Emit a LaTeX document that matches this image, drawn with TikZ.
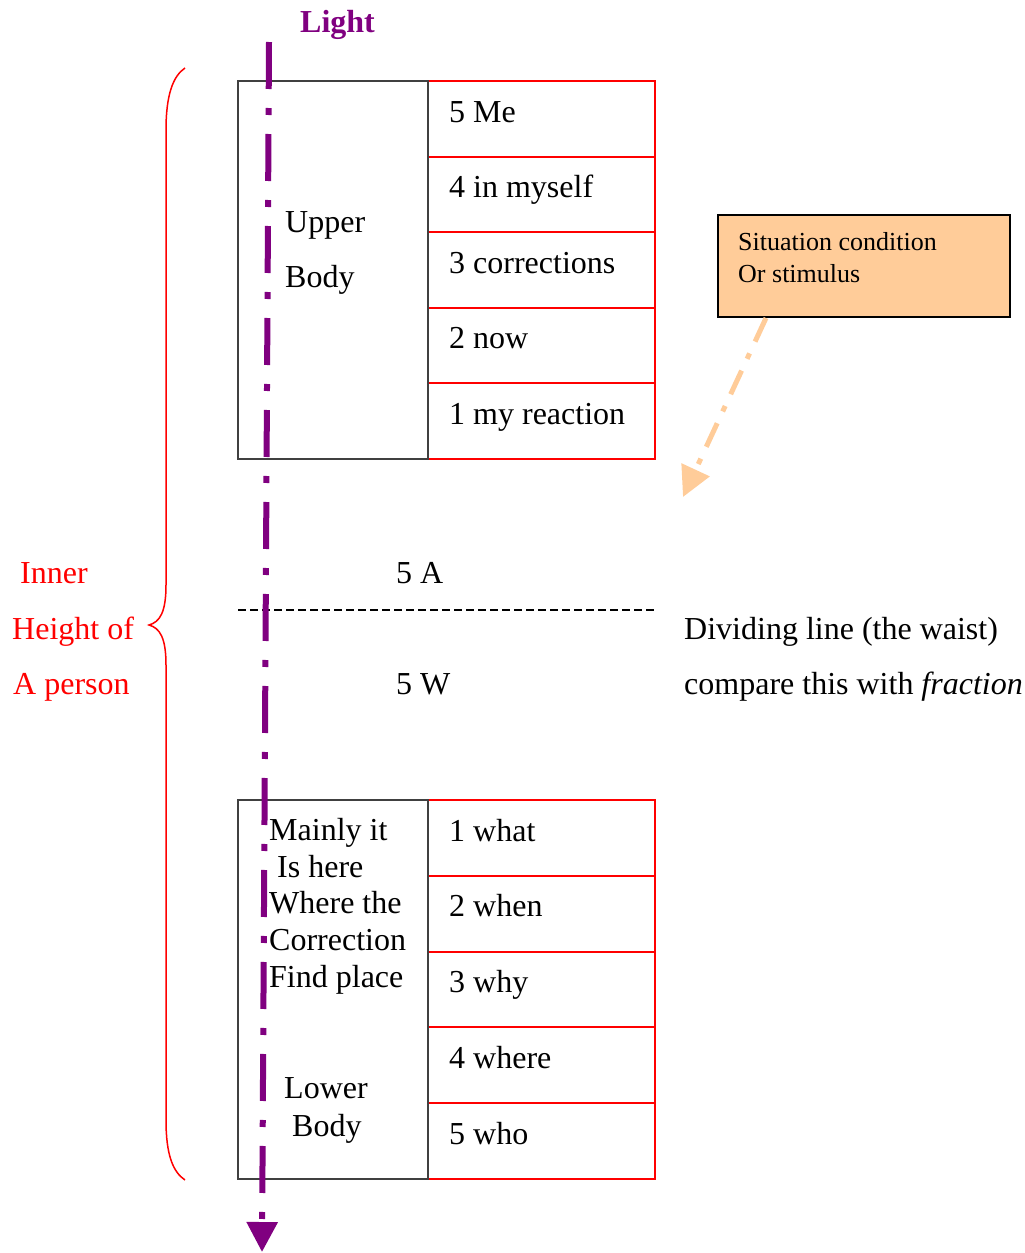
\documentclass[tikz,border=0pt]{standalone}
\usepackage{fontspec}
\setmainfont{Liberation Serif}
\usetikzlibrary{arrows.meta,calc}
\definecolor{lightpurple}{RGB}{128,0,128}
\definecolor{peach}{RGB}{255,204,153}
\definecolor{boxgray}{RGB}{64,64,64}
\begin{document}
\begin{tikzpicture}[x=1pt,y=-1pt,
  txt/.style={anchor=base west,inner sep=0pt,font=\fontsize{32}{37}\selectfont},
  redtxt/.style={txt,text=red},
  smalltxt/.style={anchor=base west,inner sep=0pt,font=\fontsize{26}{32}\selectfont},
  cellbox/.style={draw=red,line width=2pt,minimum width=227pt,minimum height=75.6pt,inner sep=0pt},
  bodybox/.style={draw=boxgray,line width=2pt,minimum width=190pt,minimum height=378pt,inner sep=0pt},
  stimbox/.style={draw=black,fill=peach,line width=2pt,minimum width=292pt,minimum height=102pt,inner sep=0pt},
  lightline/.style={lightpurple,line width=6pt,dash pattern=on 47pt off 19pt on 7pt off 19pt,
    -{Triangle[width=30pt,length=30pt]}},
  stimline/.style={peach,line width=5pt,dash pattern=on 26pt off 13pt on 6pt off 13pt,
    -{Triangle[width=30pt,length=30pt]}},
  waist/.style={black,line width=1.5pt,dash pattern=on 8pt off 4pt},
  bracestyle/.style={red,line width=1.5pt}
]
\useasboundingbox (0,0) rectangle (1025,1253);

% upper cells
\node[cellbox] (u5) at (541.5,118.8) {};
\node[cellbox] (u4) at (541.5,194.4) {};
\node[cellbox] (u3) at (541.5,270.0) {};
\node[cellbox] (u2) at (541.5,345.6) {};
\node[cellbox] (u1) at (541.5,421.2) {};
\node[bodybox] (upper) at (333,270) {};

% lower cells
\node[cellbox,minimum height=75.8pt] (l1) at (541.5,837.9) {};
\node[cellbox,minimum height=75.8pt] (l2) at (541.5,913.7) {};
\node[cellbox,minimum height=75.8pt] (l3) at (541.5,989.5) {};
\node[cellbox,minimum height=75.8pt] (l4) at (541.5,1065.3) {};
\node[cellbox,minimum height=75.8pt] (l5) at (541.5,1141.1) {};
\node[bodybox,minimum height=379pt] (lower) at (333,989.5) {};

% cell texts
\node[txt] (tu5) at (449,122) {5 Me};
\node[txt] (tu4) at (449,197) {4 in myself};
\node[txt] (tu3) at (449,273) {3 corrections};
\node[txt] (tu2) at (449,348) {2 now};
\node[txt] (tu1) at (449,424) {1 my reaction};
\node[txt] (tl1) at (449,841) {1 what};
\node[txt] (tl2) at (449,916) {2 when};
\node[txt] (tl3) at (449,992) {3 why};
\node[txt] (tl4) at (449,1068) {4 where};
\node[txt] (tl5) at (449,1144) {5 who};

% body texts
\node[txt] (ub1) at (285,232) {Upper};
\node[txt] (ub2) at (285,287) {Body};
\node[txt] (m1) at (269,840) {Mainly it};
\node[txt] (m2) at (277,877) {Is here};
\node[txt] (m3) at (269,913) {Where the};
\node[txt] (m4) at (269,950) {Correction};
\node[txt] (m5) at (269,987) {Find place};
\node[txt] (lb1) at (284,1098) {Lower};
\node[txt] (lb2) at (292,1136) {Body};

% waist
\node[txt] (fa) at (396,583) {5 A};
\node[txt] (fw) at (396,694) {5 W};
\coordinate (waistL) at (238,610);
\coordinate (waistR) at (655,610);
\draw[waist] (waistL) -- (waistR);
\node[txt] (div1) at (684,639) {Dividing line (the waist)};
\node[txt] (div2) at (684,694) {compare this with \textit{fraction}};

% inner height
\node[redtxt] (ih1) at (20,583) {Inner};
\node[redtxt] (ih2) at (12,639) {Height of};
\node[redtxt] (ih3) at (13,694) {A person};
\draw[bracestyle] (185,68) .. controls (173,76) and (166,95) .. (166,130)
  -- (166,585) .. controls (166,612) and (160,622) .. (149,625)
  .. controls (160,628) and (166,638) .. (166,665)
  -- (166,1120) .. controls (166,1155) and (173,1172) .. (185,1180);

% stimulus
\node[stimbox] (stim) at (864,266) {};
\node[smalltxt] (st1) at (738,250) {Situation condition};
\node[smalltxt] (st2) at (738,282) {Or stimulus};
\coordinate (stimtip) at (683,497);
\draw[stimline] ($(stim.south west)+(49,0)$) -- (stimtip);

% light
\node[anchor=base west,inner sep=0pt,text=lightpurple,font=\fontsize{32}{37}\selectfont\bfseries] (light) at (300,32) {Light};
\coordinate (lighttop) at (269,42);
\coordinate (lightend) at (262,1252);
\draw[lightline] (lighttop) -- (lightend);
\end{tikzpicture}
\end{document}
